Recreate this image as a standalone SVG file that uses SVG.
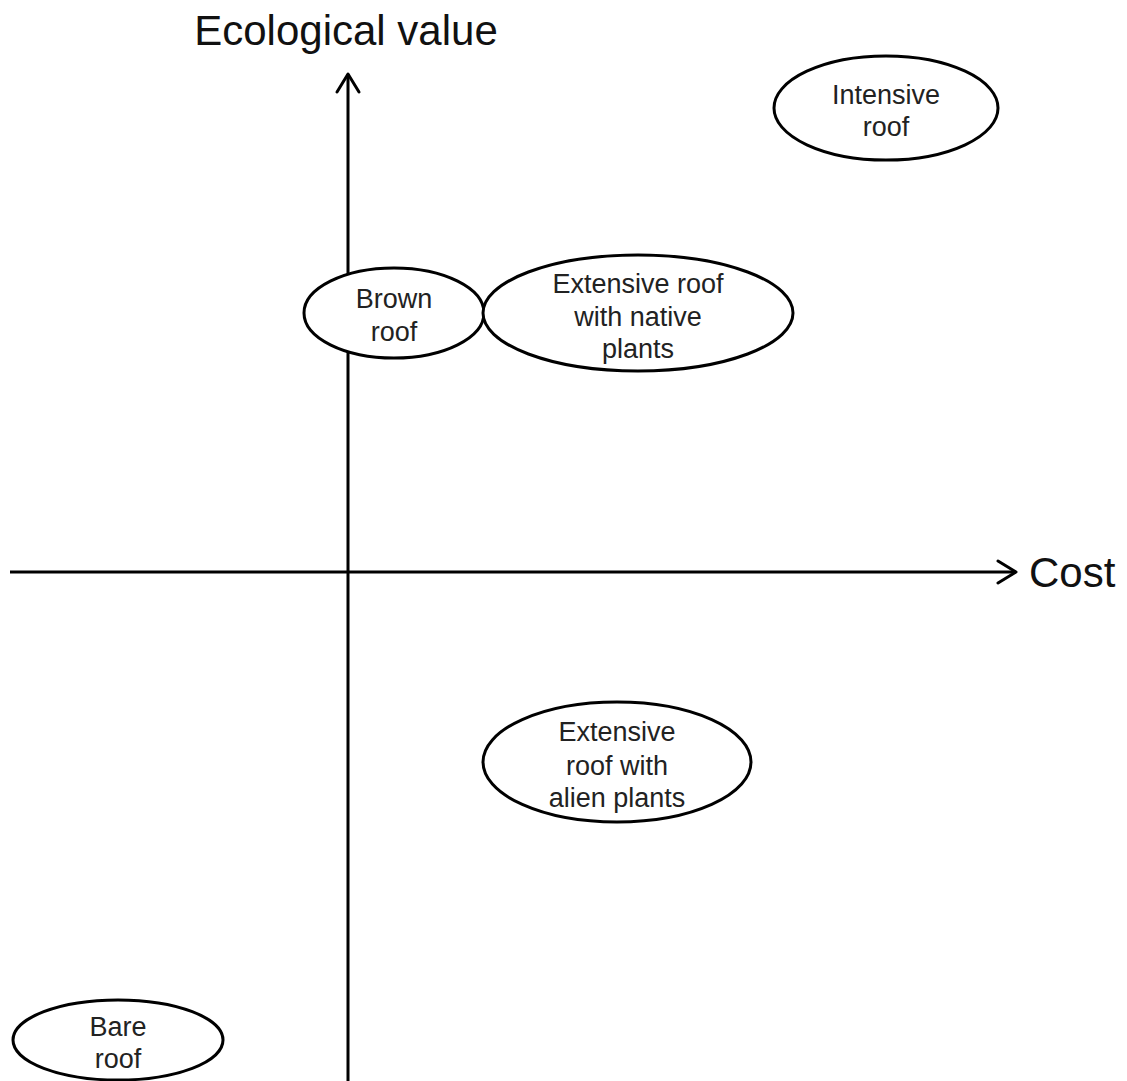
<svg xmlns="http://www.w3.org/2000/svg" width="1127" height="1081" viewBox="0 0 1127 1081">
  <style>
    .axis { stroke: #000; stroke-width: 3; fill: none; }
    .head { stroke: #000; stroke-width: 3; fill: none; stroke-linecap: round; stroke-linejoin: round; }
    .node ellipse { fill: #fff; stroke: #000; stroke-width: 3; }
    .node text { font-family: "Liberation Sans", Arial, sans-serif; font-size: 27px; fill: #222; text-anchor: middle; }
    .title { font-family: "Liberation Sans", Arial, sans-serif; font-size: 42px; fill: #111; }
  </style>
  <rect width="1127" height="1081" fill="#fff"/>

  <!-- axes -->
  <g id="connectors">
    <line class="axis" x1="348" y1="1081" x2="348" y2="74"/>
    <polyline class="head" points="337,92 348,74 359,92"/>
    <line class="axis" x1="10" y1="572" x2="1016" y2="572"/>
    <polyline class="head" points="998,561 1016,572 998,583"/>
  </g>

  <text class="title" x="346" y="45" text-anchor="middle">Ecological value</text>
  <text class="title" x="1029" y="587">Cost</text>

  <g id="intensive-roof" class="node">
    <ellipse cx="886" cy="108" rx="112" ry="52"/>
    <text x="886" y="104">Intensive</text>
    <text x="886" y="136">roof</text>
  </g>

  <g id="brown-roof" class="node">
    <ellipse cx="394" cy="313" rx="90" ry="45"/>
    <text x="394" y="308">Brown</text>
    <text x="394" y="341">roof</text>
  </g>

  <g id="extensive-native" class="node">
    <ellipse cx="638" cy="313" rx="155" ry="58"/>
    <text x="638" y="293">Extensive roof</text>
    <text x="638" y="326">with native</text>
    <text x="638" y="358">plants</text>
  </g>

  <g id="extensive-alien" class="node">
    <ellipse cx="617" cy="762" rx="134" ry="60"/>
    <text x="617" y="741">Extensive</text>
    <text x="617" y="775">roof with</text>
    <text x="617" y="807">alien plants</text>
  </g>

  <g id="bare-roof" class="node">
    <ellipse cx="118" cy="1040" rx="105" ry="40"/>
    <text x="118" y="1036">Bare</text>
    <text x="118" y="1068">roof</text>
  </g>
</svg>
